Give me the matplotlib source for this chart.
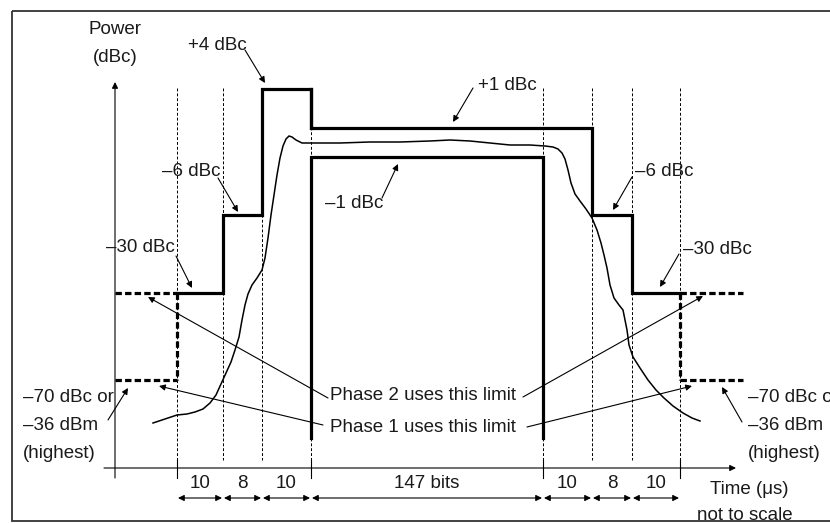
import matplotlib.pyplot as plt
from matplotlib.patches import Rectangle

# schematic positions (not to scale)
edges_x = [177, 223, 262, 311, 543, 592, 632, 680]   # time boundaries
seg_labels = ['10', '8', '10', '147 bits', '10', '8', '10']
level_y = {'+4': 89, '+1': 128, '-1': 157, '-6': 215, '-30': 293, '-70': 380}

# measured burst envelope (schematic)
curve_x = [153, 165, 177, 187, 195, 203, 210, 216, 221, 226, 231, 235, 239, 242, 245, 248,
           252, 257, 262, 265, 268, 271, 274, 277, 280, 283, 286, 289, 292, 296, 302, 311,
           340, 370, 400, 430, 450, 470, 490, 510, 530, 545, 553, 558, 562, 565, 568, 571,
           575, 580, 586, 592, 597, 601, 604, 607, 610, 614, 619, 623, 625, 627, 629, 633,
           640, 648, 656, 664, 673, 683, 692, 700]
curve_y = [423, 419, 415, 414, 412, 409, 403, 395, 384, 373, 362, 350, 337, 320, 305, 294,
           285, 278, 270, 258, 238, 215, 195, 175, 158, 146, 139, 136, 137, 140, 143, 143,
           143, 142, 142, 141, 140, 141, 143, 145, 145, 146, 147, 149, 153, 159, 170, 183,
           194, 201, 209, 218, 230, 243, 255, 268, 285, 298, 305, 310, 320, 330, 345, 357,
           368, 380, 390, 398, 406, 413, 418, 421]

FONT = ['Liberation Sans', 'DejaVu Sans']
FS = 13.5
TXT = '#1a1a1a'

fig = plt.figure(figsize=(8.3, 5.23), dpi=100)
ax = fig.add_axes([0, 0, 1, 1])
ax.set_xlim(0, 830)
ax.set_ylim(523, 0)
ax.axis('off')

def txt(x, y, s, ha='left'):
    ax.text(x, y, s, fontsize=FS, family=FONT, color=TXT, ha=ha, va='center')

def arrow(x0, y0, x1, y1, style='-|>'):
    ax.annotate('', xy=(x1, y1), xytext=(x0, y0),
                arrowprops=dict(arrowstyle=style, lw=0.8, color='black',
                                mutation_scale=9, shrinkA=0, shrinkB=0))

# frame
ax.add_patch(Rectangle((12, 11), 900, 510, fill=False, lw=1.3, ec='#333333'))

# axes
arrow(115, 478, 115, 82)
arrow(104, 468, 736, 468)
for x in [edges_x[0], edges_x[3], edges_x[4], edges_x[7]]:
    ax.plot([x, x], [460, 478], color='black', lw=0.8)

# thin dashed guides
for x in edges_x:
    ax.plot([x, x], [88, 460], color='black', lw=0.7, dashes=(3, 2))

# upper mask
e = edges_x
L = level_y
ux = [e[0], e[1], e[1], e[2], e[2], e[3], e[3], e[5], e[5], e[6], e[6], e[7]]
uy = [L['-30'], L['-30'], L['-6'], L['-6'], L['+4'], L['+4'], L['+1'], L['+1'],
      L['-6'], L['-6'], L['-30'], L['-30']]
ax.plot(ux, uy, color='black', lw=2.3, solid_joinstyle='miter')
ax.plot([e[3], e[3]], [L['+4'], L['+1']], color='black', lw=2.3)

# dashed phase limits
for xa, xb, xv in [(115, e[0], e[0]), (e[7], 743, e[7])]:
    ax.plot([xa, xb], [L['-30'], L['-30']], color='black', lw=2.3, dashes=(2, 1))
    ax.plot([xa, xb], [L['-70'], L['-70']], color='black', lw=2.3, dashes=(2, 1))
    ax.plot([xv, xv], [L['-30'], L['-70']], color='black', lw=2.3, dashes=(2, 1))

# lower mask
ax.plot([e[3], e[3], e[4], e[4]], [438, L['-1'], L['-1'], 438], color='black', lw=2.3,
        solid_joinstyle='miter')

# envelope
ax.plot(curve_x, curve_y, color='black', lw=1.1)

# labels and pointers
txt(115, 30, 'Power', ha='center')
txt(115, 57, '(dBc)', ha='center')
txt(188, 45, '+4 dBc')
arrow(245, 50, 265, 83)
txt(162, 172, '\u20136 dBc')
arrow(218, 178, 238, 212)
txt(106, 248, '\u201330 dBc')
arrow(176, 256, 192, 288)
txt(325, 204, '\u20131 dBc')
arrow(382, 198, 398, 164)
txt(478, 86, '+1 dBc')
arrow(473, 88, 453, 122)
txt(635, 171, '\u20136 dBc')
arrow(632, 177, 613, 210)
txt(683, 250, '\u201330 dBc')
arrow(679, 254, 660, 287)

for i, s in enumerate(['\u201370 dBc or', '\u201336 dBm', '(highest)']):
    txt(23, 397 + 28 * i, s)
    txt(748, 398 + 28 * i, s)
arrow(108, 420, 128, 388)
arrow(742, 422, 722, 387)

txt(330, 395, 'Phase 2 uses this limit')
txt(330, 427, 'Phase 1 uses this limit')
arrow(328, 398, 148, 297)
arrow(323, 425, 159, 386)
arrow(523, 397, 703, 296)
arrow(527, 427, 692, 386)

# segment durations
for i, s in enumerate(seg_labels):
    xa, xb = edges_x[i], edges_x[i + 1]
    txt((xa + xb) / 2, 483, s, ha='center')
    arrow(xa + 1, 498, xb - 1, 498, style='<|-|>')

txt(710, 490, 'Time (\u03bcs)')
txt(697, 516, 'not to scale')

fig.savefig('out.png', dpi=100)
